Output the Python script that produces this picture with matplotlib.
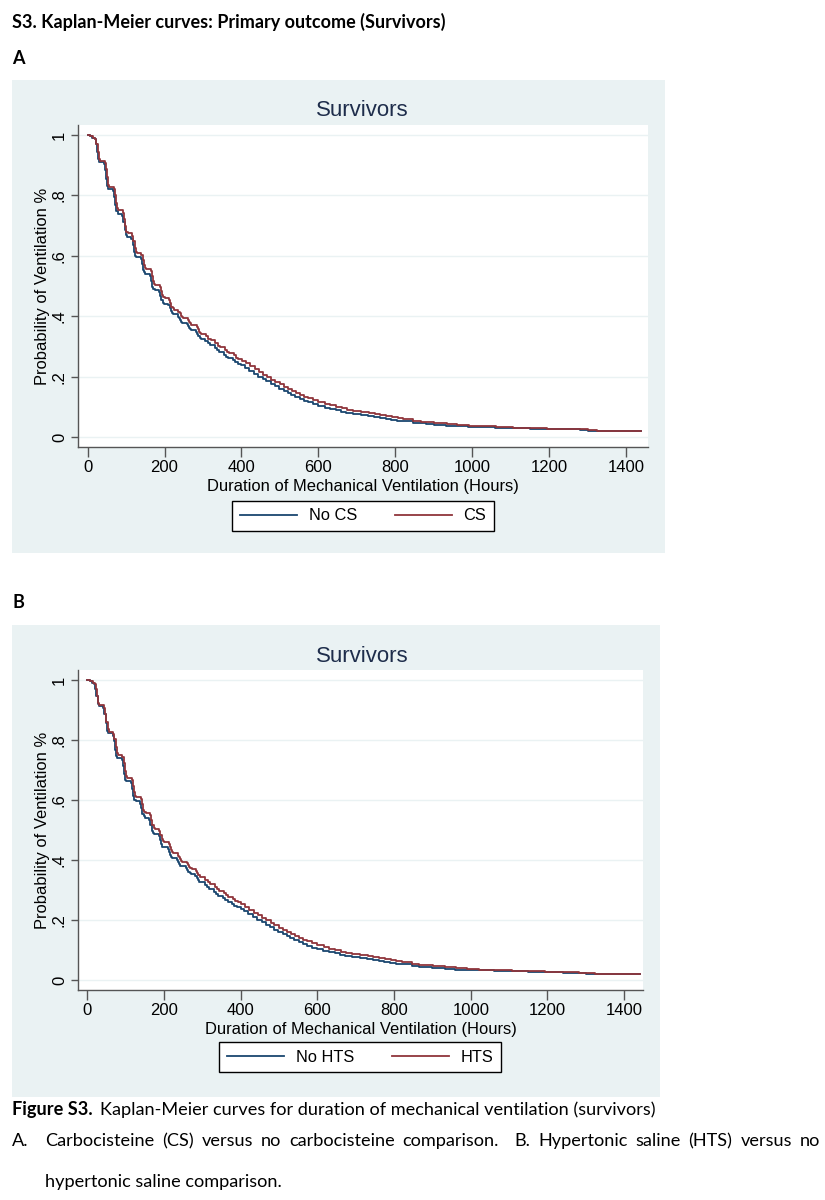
import matplotlib
matplotlib.use("Agg")
import matplotlib.pyplot as plt
from matplotlib.patches import Rectangle

# =================================================================
# Valores (curvas de Kaplan-Meier, supervivientes)
# =================================================================
hours_nocs = [0, 6, 12, 18, 21, 24, 27, 30, 42, 45, 48, 51, 54, 66, 69, 72, 75, 78,
              90, 93, 96, 99, 102, 114, 117, 120, 123, 126, 138, 141, 144, 147, 150,
              162, 165, 168, 171, 174, 186, 189, 192, 195, 198, 210, 213, 216, 219, 222,
              234, 237, 240, 243, 246, 258, 261, 264, 267, 270, 282, 285, 288, 291, 294,
              306, 312, 318, 330, 336, 342, 354, 360, 366, 378, 384, 390, 400, 410, 420,
              432, 443, 455, 465, 476, 486, 498, 510, 520, 530, 540, 551, 562, 573, 586,
              598, 616, 630, 645, 660, 673, 690, 710, 730, 745, 760, 775, 790, 805, 820,
              846, 865, 880, 900, 933, 960, 990, 1020, 1060, 1106, 1150, 1193, 1240, 1280,
              1300, 1323, 1345, 1440]
surv_nocs = [1.0, 0.997, 0.99, 0.985, 0.97, 0.945, 0.92, 0.912, 0.905, 0.885, 0.855, 0.83,
             0.822, 0.813, 0.795, 0.768, 0.748, 0.74, 0.732, 0.712, 0.685, 0.668, 0.662,
             0.655, 0.635, 0.612, 0.6, 0.595, 0.588, 0.572, 0.553, 0.545, 0.54, 0.533,
             0.517, 0.498, 0.49, 0.486, 0.48, 0.467, 0.452, 0.445, 0.442, 0.436, 0.427,
             0.416, 0.41, 0.406, 0.399, 0.393, 0.386, 0.381, 0.379, 0.373, 0.366, 0.36,
             0.356, 0.354, 0.347, 0.34, 0.333, 0.328, 0.326, 0.318, 0.31, 0.304, 0.295,
             0.287, 0.281, 0.273, 0.266, 0.261, 0.254, 0.247, 0.243, 0.237, 0.229, 0.22,
             0.21, 0.2, 0.192, 0.184, 0.176, 0.168, 0.16, 0.152, 0.146, 0.139, 0.133,
             0.126, 0.12, 0.115, 0.108, 0.103, 0.097, 0.093, 0.089, 0.084, 0.08, 0.076,
             0.073, 0.069, 0.066, 0.062, 0.06, 0.057, 0.054, 0.052, 0.048, 0.045, 0.043,
             0.041, 0.037, 0.035, 0.033, 0.032, 0.03, 0.029, 0.027, 0.026, 0.025, 0.023,
             0.021, 0.02, 0.019, 0.019]

hours_cs = [0, 7, 14, 20, 23, 26, 29, 32, 44, 47, 50, 53, 56, 68, 71, 74, 77, 80,
            92, 95, 98, 101, 104, 116, 119, 122, 125, 128, 140, 143, 146, 149, 152,
            164, 167, 170, 173, 176, 188, 191, 194, 197, 200, 212, 215, 218, 221, 224,
            236, 239, 242, 245, 248, 260, 263, 266, 269, 272, 284, 287, 290, 293, 296,
            308, 314, 320, 332, 338, 344, 356, 362, 368, 380, 386, 392, 402, 412, 422,
            434, 445, 457, 467, 478, 488, 499, 511, 521, 531, 541, 552, 563, 574, 587,
            599, 617, 631, 646, 661, 674, 691, 711, 731, 746, 761, 776, 791, 806, 821,
            847, 866, 881, 901, 934, 961, 991, 1021, 1061, 1107, 1151, 1194, 1241, 1281,
            1301, 1324, 1346, 1440]
surv_cs = [1.0, 0.997, 0.99, 0.985, 0.97, 0.945, 0.922, 0.915, 0.908, 0.888, 0.86, 0.836,
           0.828, 0.82, 0.802, 0.776, 0.757, 0.75, 0.742, 0.723, 0.697, 0.68, 0.674,
           0.667, 0.648, 0.626, 0.614, 0.609, 0.602, 0.587, 0.568, 0.56, 0.556, 0.549,
           0.533, 0.515, 0.507, 0.503, 0.497, 0.484, 0.469, 0.462, 0.459, 0.452, 0.443,
           0.432, 0.426, 0.422, 0.415, 0.409, 0.402, 0.397, 0.395, 0.389, 0.382, 0.376,
           0.372, 0.37, 0.363, 0.356, 0.349, 0.344, 0.342, 0.334, 0.326, 0.32, 0.311,
           0.303, 0.297, 0.289, 0.282, 0.277, 0.27, 0.263, 0.259, 0.253, 0.244, 0.235,
           0.225, 0.216, 0.207, 0.199, 0.19, 0.182, 0.174, 0.166, 0.16, 0.153, 0.147,
           0.14, 0.134, 0.129, 0.122, 0.117, 0.11, 0.105, 0.1, 0.095, 0.091, 0.087,
           0.083, 0.079, 0.076, 0.073, 0.07, 0.066, 0.062, 0.059, 0.054, 0.051, 0.049,
           0.046, 0.042, 0.039, 0.037, 0.035, 0.033, 0.031, 0.029, 0.028, 0.027, 0.025,
           0.023, 0.021, 0.02, 0.02]

# el panel B se lee practicamente igual que el A
hours_nohts = hours_nocs
surv_nohts = surv_nocs
hours_hts = hours_cs
surv_hts = surv_cs

x_ticks = [0, 200, 400, 600, 800, 1000, 1200, 1400]
y_ticks = [0, 0.2, 0.4, 0.6, 0.8, 1.0]
y_tick_labels = ["0", ".2", ".4", ".6", ".8", "1"]

# =================================================================
# Estilo
# =================================================================
W, H = 825, 1200
BG = "#eaf2f3"
BLUE = "#1a476f"
RED = "#90353b"
TITLE_C = "#1e2d4b"
CHART_FONT = "Liberation Sans"
DOC_FONT = "Lato"

fig = plt.figure(figsize=(W / 100, H / 100), dpi=100)


def px_box(x0, y0, x1, y1):
    # pixeles (arriba-izquierda) -> coordenadas de figura
    return [x0 / W, 1 - y1 / H, (x1 - x0) / W, (y1 - y0) / H]


def panel(box, plot, legend_c, curves, labels, title_y, xlim, ylim):
    bx = px_box(*box)
    fig.patches.append(Rectangle((bx[0], bx[1]), bx[2], bx[3], transform=fig.transFigure,
                                 facecolor=BG, edgecolor="none", zorder=-5))
    ax = fig.add_axes(px_box(*plot))
    ax.set_facecolor("white")
    for (t, s), c, lab in zip(curves, [BLUE, RED], labels):
        ax.plot(t, s, drawstyle="steps-post", color=c, lw=1.3, label=lab)
    ax.set_xlim(*xlim)
    ax.set_ylim(*ylim)
    ax.set_xticks(x_ticks)
    ax.set_yticks(y_ticks)
    ax.set_yticklabels(y_tick_labels, rotation=90, va="center")
    ax.grid(axis="y", color=BG, lw=1.0)
    ax.set_axisbelow(True)
    for side in ["top", "right"]:
        ax.spines[side].set_visible(False)
    for side in ["left", "bottom"]:
        ax.spines[side].set_color("#555555")
        ax.spines[side].set_linewidth(1.0)
    ax.tick_params(direction="out", width=1, color="#555555",
                   labelsize=12, labelcolor="black")
    ax.tick_params(axis="x", length=7, pad=2.2)
    ax.tick_params(axis="y", length=5, pad=3)
    for lbl in ax.get_xticklabels() + ax.get_yticklabels():
        lbl.set_fontfamily(CHART_FONT)
    plot_w = plot[2] - plot[0]
    plot_h = plot[3] - plot[1]
    ax.set_xlabel("Duration of Mechanical Ventilation (Hours)", fontsize=11.9,
                  family=CHART_FONT, va="baseline")
    ax.xaxis.set_label_coords(0.5, -44 / plot_h)
    ax.set_ylabel("Probability of Ventilation %", fontsize=11.9, family=CHART_FONT,
                  va="center")
    ax.yaxis.set_label_coords(-35 / plot_w, 0.5)
    fig.text(362 / W, 1 - title_y / H, "Survivors", fontsize=16, family=CHART_FONT,
             color=TITLE_C, ha="center", va="center")
    fig.legend(*ax.get_legend_handles_labels(), loc="center",
               bbox_to_anchor=(legend_c[0] / W, 1 - legend_c[1] / H), ncol=2,
               frameon=True, fancybox=False, edgecolor="black", framealpha=1,
               prop={"family": CHART_FONT, "size": 11.8}, handlelength=3.5,
               handletextpad=0.7, columnspacing=2.3, borderpad=0.45)
    fig.legends[-1].get_frame().set_linewidth(1.0)
    return ax


panel((12, 80, 665, 553), (78, 125, 648, 447), (363, 516),
      [(hours_nocs, surv_nocs), (hours_cs, surv_cs)], ["No CS", "CS"], 110,
      (-25, 1457), (-0.033, 1.033))
panel((12, 625, 660, 1097), (78, 670, 643, 990), (360, 1057),
      [(hours_nohts, surv_nohts), (hours_hts, surv_hts)], ["No HTS", "HTS"], 656,
      (-24, 1449), (-0.033, 1.033))

# =================================================================
# Textos del documento
# =================================================================
fig.text(12 / W, 1 - 22 / H, "S3. Kaplan-Meier curves: Primary outcome (Survivors)",
         fontsize=13, weight="bold", family=DOC_FONT, va="center")
fig.text(12 / W, 1 - 58 / H, "A", fontsize=13, weight="bold", family=DOC_FONT, va="center")
fig.text(12 / W, 1 - 603 / H, "B", fontsize=13, weight="bold", family=DOC_FONT, va="center")

renderer = fig.canvas.get_renderer()
fs_cap = 13.1
t1 = fig.text(12 / W, 1 - 1110 / H, "Figure S3.", fontsize=fs_cap, weight="bold",
              family=DOC_FONT, va="center")
w1 = t1.get_window_extent(renderer).width
fig.text((12 + w1 + 7) / W, 1 - 1110 / H,
         "Kaplan-Meier curves for duration of mechanical ventilation (survivors)",
         fontsize=fs_cap, family=DOC_FONT, va="center")

fig.text(12 / W, 1 - 1141 / H, "A.", fontsize=fs_cap, family=DOC_FONT, va="center")
# linea justificada entre x=45 y x=820
words = ("Carbocisteine (CS) versus no carbocisteine comparison.  B. Hypertonic "
         "saline (HTS) versus no").split(" ")
items = [fig.text(0, 1 - 1141 / H, w, fontsize=fs_cap, family=DOC_FONT, va="center")
         for w in words]
widths = [it.get_window_extent(renderer).width if it.get_text() else 0 for it in items]
gap = (820 - 45 - sum(widths)) / (len(items) - 1)
xpos = 45
for it, w in zip(items, widths):
    it.set_x(xpos / W)
    xpos += w + gap
fig.text(45 / W, 1 - 1182 / H, "hypertonic saline comparison.", fontsize=fs_cap,
         family=DOC_FONT, va="center")

fig.savefig("out.png", dpi=100, facecolor="white")
